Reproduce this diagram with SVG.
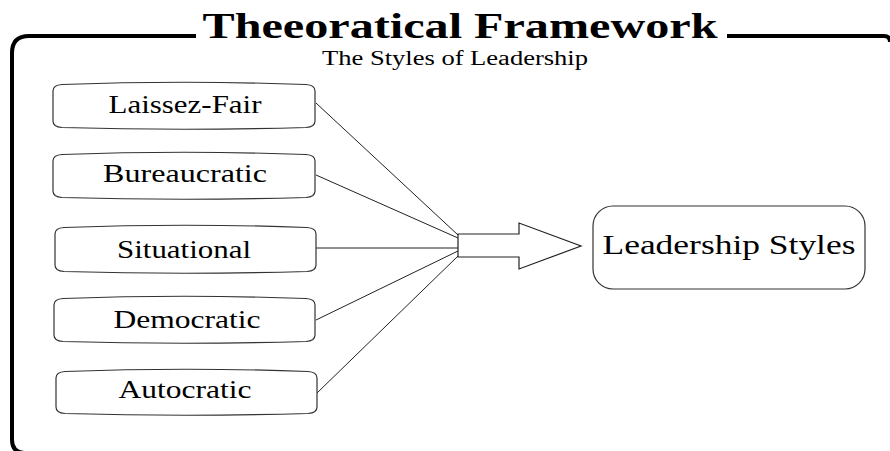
<svg xmlns="http://www.w3.org/2000/svg" width="890" height="451" viewBox="0 0 890 451">
<style>
.frame{fill:none;stroke:#000;stroke-width:4}
.box{fill:#fff;stroke:#333;stroke-width:1.2}
.serif{font-family:"Liberation Serif","Times New Roman",Times,"Nimbus Roman",serif;fill:#000;text-anchor:middle}
.lbl{font-size:25px}
.con{stroke:#222;stroke-width:1;fill:none}
</style>
<rect width="890" height="451" fill="#fff"/>
<path class="frame" d="M 12,440 V 53 Q 12,36 29,36 H 196 M 727,36 H 884 Q 890,36 890,42 M 12,440 Q 12,452 24,453"/>
<text class="serif" x="460" y="38" font-weight="bold" font-size="36" textLength="515" lengthAdjust="spacingAndGlyphs">Theeoratical Framework</text>
<text class="serif" x="455" y="65" font-size="20" textLength="266" lengthAdjust="spacingAndGlyphs">The Styles of Leadership</text>
<g id="connectors">
<line class="con" x1="316" y1="103" x2="458" y2="235"/>
<line class="con" x1="316" y1="175" x2="458" y2="238"/>
<line class="con" x1="316" y1="248" x2="458" y2="248"/>
<line class="con" x1="316" y1="320" x2="458" y2="251"/>
<line class="con" x1="317" y1="393" x2="458" y2="256"/>
</g>
<g id="arrow">
<path d="M 458,234 H 519 V 223 L 581,246 L 519,269 V 257 H 458 Z" fill="#fff" stroke="#222" stroke-width="1.2"/>
</g>
<g id="node-laissez">
<path class="box" d="M 53,91 Q 53,85 62,84.5 Q 184,80 306,84.5 Q 315,85 315,91 V 121 Q 315,127 306,127.5 Q 184,131 62,127.5 Q 53,127 53,121 Z"/>
<text class="serif lbl" x="185" y="113" textLength="153" lengthAdjust="spacingAndGlyphs">Laissez-Fair</text>
</g>
<g id="node-bureaucratic">
<path class="box" d="M 53,161 Q 53,155 62,154.5 Q 184,150 306,154.5 Q 315,155 315,161 V 191 Q 315,197 306,197.5 Q 184,201 62,197.5 Q 53,197 53,191 Z"/>
<text class="serif lbl" x="185" y="182" textLength="164" lengthAdjust="spacingAndGlyphs">Bureaucratic</text>
</g>
<g id="node-situational">
<path class="box" d="M 55,234 Q 55,228 64,227.5 Q 185,223 307,227.5 Q 316,228 316,234 V 265 Q 316,271 307,271.5 Q 185,275 64,271.5 Q 55,271 55,265 Z"/>
<text class="serif lbl" x="184" y="258" textLength="134" lengthAdjust="spacingAndGlyphs">Situational</text>
</g>
<g id="node-democratic">
<path class="box" d="M 54,305 Q 54,299 63,298.5 Q 184,294 306,298.5 Q 315,299 315,305 V 335 Q 315,341 306,341.5 Q 184,345 63,341.5 Q 54,341 54,335 Z"/>
<text class="serif lbl" x="187" y="328" textLength="147" lengthAdjust="spacingAndGlyphs">Democratic</text>
</g>
<g id="node-autocratic">
<path class="box" d="M 56,378 Q 56,372 65,371.5 Q 186,367 308,371.5 Q 317,372 317,378 V 407 Q 317,413 308,413.5 Q 186,417 65,413.5 Q 56,413 56,407 Z"/>
<text class="serif lbl" x="185" y="398" textLength="133" lengthAdjust="spacingAndGlyphs">Autocratic</text>
</g>
<g id="node-leadership-styles">
<rect class="box" x="593" y="206" width="272" height="83" rx="20" ry="20" stroke="#222"/>
<text class="serif" x="729" y="254" font-size="28" textLength="253" lengthAdjust="spacingAndGlyphs">Leadership Styles</text>
</g>
</svg>
